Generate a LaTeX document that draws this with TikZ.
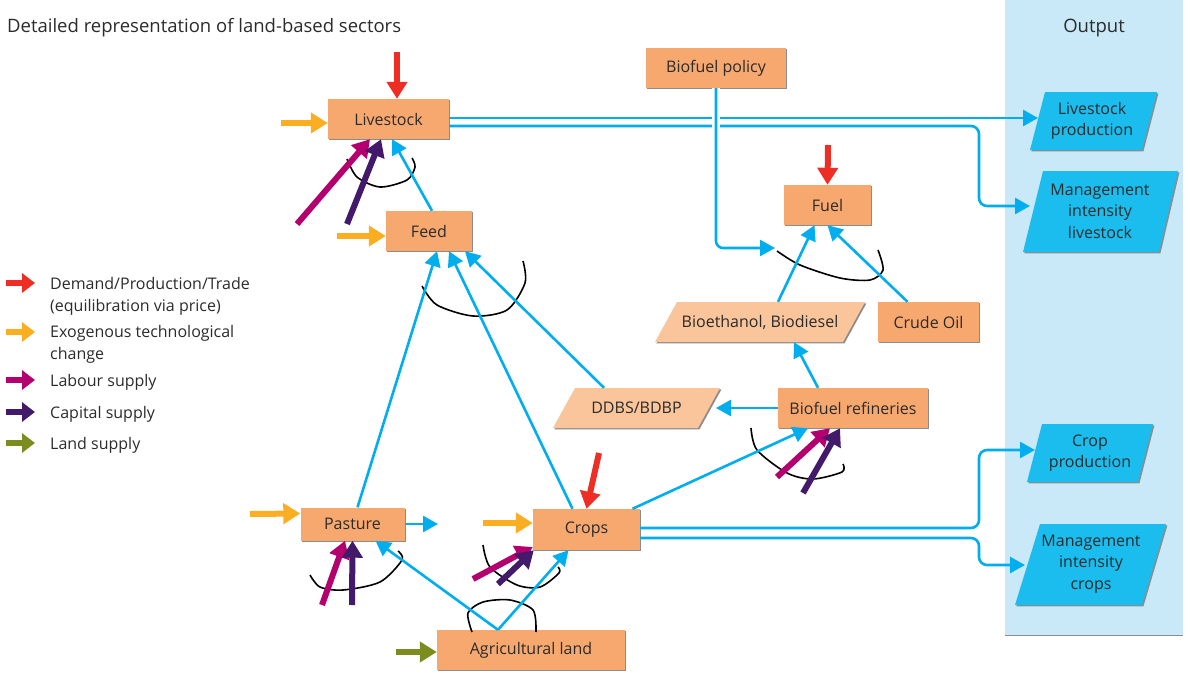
\documentclass[tikz,border=0pt]{standalone}
\usepackage{fontspec}
\setmainfont{Open Sans}
\usetikzlibrary{arrows.meta,shadows}
\definecolor{boxor}{HTML}{F7A86F}
\definecolor{light}{HTML}{FAC59A}
\definecolor{outc}{HTML}{1BBDEE}
\definecolor{panel}{HTML}{C9E9F8}
\definecolor{cy}{HTML}{00AEEF}
\definecolor{rd}{HTML}{EE2D24}
\definecolor{orng}{HTML}{FBAE22}
\definecolor{mag}{HTML}{B3006E}
\definecolor{pur}{HTML}{43196A}
\definecolor{grn}{HTML}{7D8C1F}
\definecolor{txt}{HTML}{2B2B2B}
\definecolor{shd}{HTML}{8C8C8C}
\newcommand{\pgram}[7]{%
  \fill[shd] (#2+1.4,#7+1.4) -- (#3+1.4,#7+1.4) -- (#5+1.4,#6+1.4) -- (#4+1.4,#6+1.4) -- cycle;
  \fill[#1] (#2,#7) -- (#3,#7) -- (#5,#6) -- (#4,#6) -- cycle;}
\begin{document}
\begin{tikzpicture}[x=1pt,y=-1pt,
  every node/.style={font=\fontsize{16}{21.5}\selectfont, text=txt},
  big/.style={font=\fontsize{18.5}{22}\selectfont},
  box/.style={fill=boxor, inner sep=0pt, minimum height=40pt,
    drop shadow={shadow xshift=1.4pt, shadow yshift=-1.4pt, fill=shd, opacity=1}},
  lbl/.style={inner sep=0pt, minimum height=40pt},
  cyl/.style={draw=cy, line width=2.6pt},
  cyarr/.style={draw=cy, line width=2.6pt, -{Triangle[length=15pt,width=16pt]}},
  fat/.style={line width=6pt, -{Triangle[length=17pt,width=20pt]}},
  leg/.style={line width=6pt, -{Triangle[length=13pt,width=19pt]}},
  arcst/.style={draw=black, line width=1.6pt}]
\useasboundingbox (0,0) rectangle (1190,672);
% output panel
\fill[panel] (1005,0) rectangle (1183,635);
\draw[shd, line width=1pt] (1005,635) -- (1183,635);
\node[big, anchor=base west, inner sep=0pt] (title) at (7,32) {Detailed representation of land-based sectors};
\node[big, anchor=base, inner sep=0pt] (outtitle) at (1094,32) {Output};
% parallelogram shapes
\pgram{light}{655}{843}{677}{865}{302}{342}
\pgram{light}{553}{698}{575}{720}{388}{428}
\pgram{outc}{1030}{1142}{1045}{1157}{92}{150}
\pgram{outc}{1023}{1159}{1043}{1178}{171}{252}
\pgram{outc}{1027}{1138}{1042}{1153}{424}{482}
\pgram{outc}{1015}{1142}{1040}{1166}{524}{605}
\node[lbl] (bio) at (760,322) {Bioethanol, Biodiesel};
\node[lbl] (ddbs) at (636.5,408) {DDBS/BDBP};
\node[align=center] (lp) at (1092,121) {Livestock\\production};
\node[align=center] (mil) at (1100,211) {Management\\intensity\\livestock};
\node[align=center] (cp) at (1090,453) {Crop\\production};
\node[align=center] (mic) at (1091,564) {Management\\intensity\\crops};
% boxes
\node[box, minimum width=121pt] (liv) at (388.5,119) {Livestock};
\node[box, minimum width=86pt] (feed) at (429,231) {Feed};
\node[box, minimum width=140pt] (pol) at (716,68) {Biofuel policy};
\node[box, minimum width=87pt] (fuel) at (827.5,205) {Fuel};
\node[box, minimum width=101pt] (crude) at (928.5,322) {Crude Oil};
\node[box, minimum width=150pt] (ref) at (853,408) {Biofuel refineries};
\node[box, minimum width=104pt, minimum height=33pt] (past) at (352.5,524) {Pasture};
\node[box, minimum width=107pt, minimum height=41pt] (crops) at (586.5,529.5) {Crops};
\node[box, minimum width=188pt] (agri) at (531,650) {Agricultural land};
% coordinates
\coordinate (lptip) at (1038,118);
\coordinate (miltip) at (1030,206);
\coordinate (cptip) at (1035,450);
\coordinate (mictip) at (1025,565);
\coordinate (poltip) at (775,248);
\coordinate (ddbstip) at (716,408);
\coordinate (pastout) at (438,524);
\coordinate (sOl) at (281,123);
\coordinate (sRl) at (397,52);
\coordinate (sMl) at (297,224);
\coordinate (sPl) at (347,224);
\coordinate (sOf) at (337,236);
\coordinate (sRfu) at (828,145);
\coordinate (sMr) at (777,477);
\coordinate (sPr) at (803,493);
\coordinate (sRc) at (599,453);
\coordinate (sOc) at (483,523);
\coordinate (sMc) at (473,579);
\coordinate (sPc) at (498,584);
\coordinate (sOp) at (250,514);
\coordinate (sMp) at (322,605);
\coordinate (sPp) at (352,605);
\coordinate (sGa) at (396,652);
% arcs
\draw[arcst] plot[smooth] coordinates {(347,159) (357,177) (380,187) (407,180) (415,167) (412,158)};
\draw[arcst] plot[smooth] coordinates {(422,286) (437,305) (473,316) (507,310) (525,283) (523,261)};
\draw[arcst] plot[smooth] coordinates {(777,251) (800,265) (840,278) (870,280) (883,270) (878,250)};
\draw[arcst] plot[smooth] coordinates {(751,428) (757,450) (787,473) (813,479) (842,472) (843,464)};
\draw[arcst] plot[smooth] coordinates {(483,545) (490,567) (517,585) (540,587) (559,573) (558,567)};
\draw[arcst] plot[smooth] coordinates {(310,575) (320,587) (343,590) (380,582) (402,560) (398,551)};
\draw[arcst] plot[smooth] coordinates {(472,632) (468,613) (483,602) (510,600) (533,610) (536,632)};
% cyan connectors
\draw[cyarr] ([xshift=3pt]feed.north) -- ([xshift=3.5pt]liv.south);
\draw[cyarr] ([yshift=1pt]liv.east) -- (lptip);
\draw[cyarr, rounded corners=8pt] ([yshift=-7pt]liv.east) -| ([xshift=-51pt]miltip) -- (miltip);
\draw[draw=white, line width=8pt] (pol.south) -- ([yshift=-45pt]pol.south);
\draw[cyarr, rounded corners=7pt] (pol.south) |- (poltip);
\draw[cyarr] ([xshift=5pt]past.north) -- ([xshift=8pt]feed.south);
\draw[cyarr] ([xshift=-14pt]crops.north) -- ([xshift=20pt]feed.south);
\draw[cyarr] ([xshift=-32.5pt]ddbs.north) -- ([xshift=36pt]feed.south);
\draw[cyarr] ([xshift=18pt]bio.north) -- ([xshift=-13pt]fuel.south);
\draw[cyarr] ([xshift=-21pt]crude.north) -- (fuel.south);
\draw[cyarr] ([xshift=-35pt]ref.north) -- ([xshift=34pt]bio.south);
\draw[cyarr] (ref.west) -- (ddbstip);
\draw[cyarr] ([xshift=46pt]crops.north) -- ([xshift=-45pt]ref.south);
\draw[cyarr] (past.east) -- (pastout);
\draw[cyarr] ([xshift=-33pt]agri.north) -- ([xshift=-18pt]crops.south);
\draw[cyarr] ([xshift=-33pt]agri.north) -- ([xshift=23pt]past.south);
\draw[cyarr, rounded corners=8pt] ([yshift=1.5pt]crops.east) -| ([xshift=-56pt]cptip) -- (cptip);
\draw[cyarr, rounded corners=8pt] ([yshift=-8.5pt]crops.east) -| ([xshift=-46pt]mictip) -- (mictip);
% fat arrows
\draw[fat, orng] (sOl) -- ([yshift=-4pt]liv.west);
\draw[fat, rd] (sRl) -- ([xshift=8.5pt]liv.north);
\draw[fat, mag] (sMl) -- ([xshift=-18.5pt]liv.south);
\draw[fat, pur] (sPl) -- ([xshift=-7.5pt]liv.south);
\draw[fat, orng] (sOf) -- ([yshift=-5pt]feed.west);
\draw[fat, rd] (sRfu) -- (fuel.north);
\draw[fat, mag] (sMr) -- ([xshift=-23pt]ref.south);
\draw[fat, pur] (sPr) -- ([xshift=-13pt]ref.south);
\draw[fat, rd] (sRc) -- (crops.north);
\draw[fat, orng] (sOc) -- ([yshift=6.5pt]crops.west);
\draw[fat, mag] (sMc) -- ([yshift=-17.5pt]crops.west);
\draw[fat, pur] (sPc) -- ([xshift=1pt]crops.south west);
\draw[fat, orng] (sOp) -- ([yshift=10.5pt]past.west);
\draw[fat, mag] (sMp) -- ([xshift=-7.5pt]past.south);
\draw[fat, pur] (sPp) -- (past.south);
\draw[fat, grn] (sGa) -- ([yshift=-2pt]agri.west);
% legend
\coordinate (l1a) at (6,283); \coordinate (l1b) at (35,283);
\coordinate (l2a) at (6,332); \coordinate (l2b) at (35,332);
\coordinate (l3a) at (6,380); \coordinate (l3b) at (35,380);
\coordinate (l4a) at (6,412); \coordinate (l4b) at (35,412);
\coordinate (l5a) at (6,443); \coordinate (l5b) at (35,443);
\draw[leg, rd] (l1a) -- (l1b);
\draw[leg, orng] (l2a) -- (l2b);
\draw[leg, mag] (l3a) -- (l3b);
\draw[leg, pur] (l4a) -- (l4b);
\draw[leg, grn] (l5a) -- (l5b);
\node[anchor=base west, align=left, inner sep=0pt] (t1) at (50,311) {Demand/Production/Trade\\(equilibration via price)};
\node[anchor=base west, align=left, inner sep=0pt] (t2) at (50,359) {Exogenous technological\\change};
\node[anchor=base west, inner sep=0pt] (t3) at (50,386) {Labour supply};
\node[anchor=base west, inner sep=0pt] (t4) at (50,418) {Capital supply};
\node[anchor=base west, inner sep=0pt] (t5) at (50,449) {Land supply};
\end{tikzpicture}
\end{document}
